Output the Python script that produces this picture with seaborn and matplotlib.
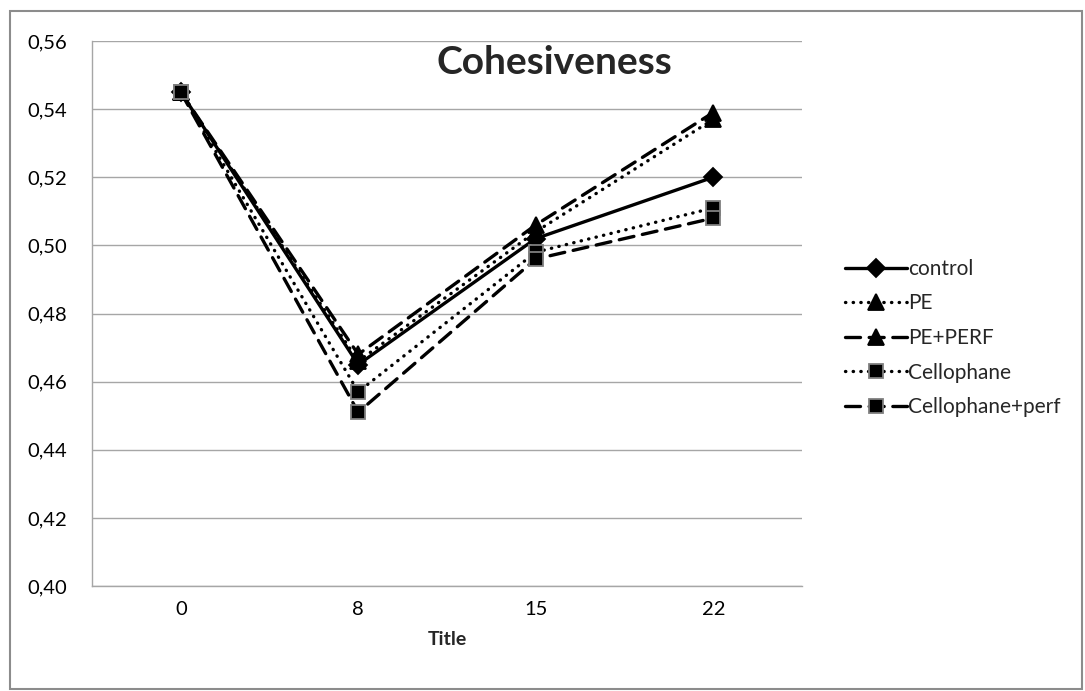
import matplotlib
matplotlib.use("Agg")
import matplotlib.pyplot as plt
from matplotlib.patches import Rectangle
import numpy as np
import pandas as pd
import seaborn as sns

# Storage days (category axis) and cohesiveness values per packaging
days = ["0", "8", "15", "22"]
control = [0.545, 0.465, 0.502, 0.520]
pe = [0.545, 0.466, 0.504, 0.537]
pe_perf = [0.545, 0.468, 0.506, 0.539]
cellophane = [0.545, 0.457, 0.498, 0.511]
cellophane_perf = [0.545, 0.451, 0.496, 0.508]

series_names = ["control", "PE", "PE+PERF", "Cellophane", "Cellophane+perf"]
series_values = [control, pe, pe_perf, cellophane, cellophane_perf]

rows = []
for name, vals in zip(series_names, series_values):
    for i, v in enumerate(vals):
        rows.append({"pos": i, "value": v, "series": name})
df = pd.DataFrame(rows)

sns.set_theme(style="white")
font = ["Lato", "DejaVu Sans"]
plt.rcParams["font.family"] = font

fig = plt.figure(figsize=(10.85, 6.91), dpi=100)
ax = fig.add_axes([92 / 1085, 1 - 586 / 691, 710 / 1085, 545 / 691])

styles = {
    "control": dict(marker="D", ms=9, mec="black", dash=None),
    "PE": dict(marker="^", ms=11, mec="black", dash=(0.1, 2.2)),
    "PE+PERF": dict(marker="^", ms=11, mec="black", dash=(4.5, 2.6)),
    "Cellophane": dict(marker="s", ms=10, mec="#7f7f7f", dash=(0.1, 2.2)),
    "Cellophane+perf": dict(marker="s", ms=10, mec="#7f7f7f", dash=(4.5, 2.6)),
}

handles = []
for name in series_names:
    st = styles[name]
    sub = df[df["series"] == name]
    sns.lineplot(data=sub, x="pos", y="value", ax=ax, color="black",
                 linewidth=2.4, marker=st["marker"], markersize=st["ms"],
                 markeredgecolor=st["mec"], markeredgewidth=1.3,
                 markerfacecolor="black", label=name, legend=False)
    line = ax.lines[-1]
    if st["dash"] is not None:
        line.set_dashes(st["dash"])
        line.set_dash_capstyle("round")
    handles.append(line)

ax.set_xlim(-0.5, len(days) - 0.5)
ax.set_ylim(0.40, 0.56)
ax.set_xticks(range(len(days)))
ax.set_xticklabels(days)
yt = np.arange(0.40, 0.5601, 0.02)
ax.set_yticks(yt)
ax.set_yticklabels([f"{v:.2f}".replace(".", ",") for v in yt])
ax.tick_params(axis="both", labelsize=14.5, colors="black", length=0, pad=11)
ax.tick_params(axis="y", pad=18)
ax.yaxis.grid(True, color="#a6a6a6", linewidth=1)
ax.xaxis.grid(False)
for side in ["top", "right"]:
    ax.spines[side].set_visible(False)
for side in ["left", "bottom"]:
    ax.spines[side].set_color("#a6a6a6")
    ax.spines[side].set_linewidth(1)

ax.set_xlabel("Title", fontsize=14, fontweight="bold", labelpad=9)
ax.set_ylabel("")
ax.text((554 - 92) / 710, 0.96, "Cohesiveness", transform=ax.transAxes,
        ha="center", va="center", fontsize=28, fontweight="bold")

leg = fig.legend(handles=handles, labels=series_names, loc="center left",
                 bbox_to_anchor=(826 / 1085, 1 - 338 / 691), frameon=False,
                 fontsize=15, handlelength=3.0, handletextpad=0.05,
                 labelspacing=0.7)

fig.patches.append(Rectangle((10 / 1085, 2 / 691), 1072 / 1085, 678 / 691,
                             transform=fig.transFigure, fill=False,
                             edgecolor="#8c8c8c", linewidth=1.5))

fig.savefig("out.png", dpi=100)
